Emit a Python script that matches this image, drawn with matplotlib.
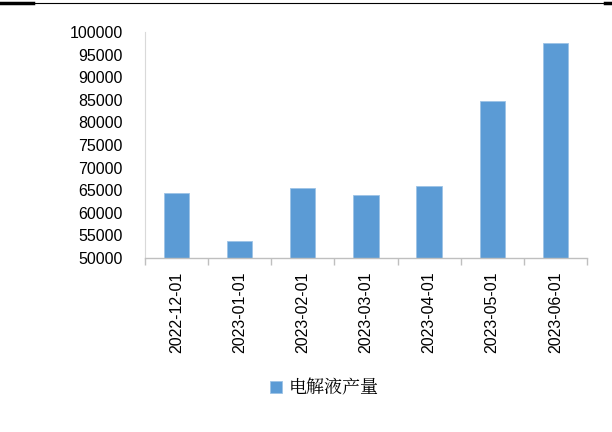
import matplotlib.pyplot as plt
from matplotlib.lines import Line2D

plt.rcParams['font.family'] = ['Liberation Sans', 'Noto Sans CJK SC', 'DejaVu Sans']

# monthly electrolyte output
months = ['2022-12-01', '2023-01-01', '2023-02-01', '2023-03-01',
          '2023-04-01', '2023-05-01', '2023-06-01']
output = [64400, 53800, 65500, 63900, 66000, 84700, 97600]
series_name = '电解液产量'

fig = plt.figure(figsize=(6.12, 4.32), dpi=100)
ax = fig.add_axes([0.237, 0.403, 0.722, 0.523])

x = list(range(len(months)))
ax.bar(x, output, width=0.4, color='#5B9BD5', edgecolor='#9DC3E6',
       linewidth=0.6, label=series_name, zorder=2)

ax.set_ylim(50000, 100000)
ax.set_yticks(range(50000, 100001, 5000))
ax.set_xlim(-0.5, len(months) - 0.5)
ax.set_xticks(x)
ax.set_xticklabels(months, rotation=90, fontsize=11.5)
ax.tick_params(axis='y', length=0, labelsize=11.5, pad=16)
ax.tick_params(axis='x', length=0, pad=10)

# category separators below the axis
ax.set_xticks([i - 0.5 for i in range(len(months) + 1)], minor=True)
ax.tick_params(axis='x', which='minor', length=5, color='#BFBFBF',
               direction='out', width=1)

for side in ['top', 'right']:
    ax.spines[side].set_visible(False)
ax.spines['left'].set_color('#D9D9D9')
ax.spines['bottom'].set_color('#BFBFBF')
ax.spines['bottom'].set_linewidth(1)

leg = fig.legend(loc='center', bbox_to_anchor=(0.53, 0.102), frameon=False,
                 handlelength=0.65, handleheight=0.65, handletextpad=0.35,
                 prop={'family': ['Noto Serif CJK SC', 'Noto Sans CJK SC'],
                       'size': 13})

# rule across the top of the page
fig.add_artist(Line2D([0, 1], [0.993, 0.993], color='black', lw=0.8,
                      transform=fig.transFigure))
fig.add_artist(Line2D([0, 0.054], [0.993, 0.993], color='black', lw=2.5,
                      transform=fig.transFigure))
fig.add_artist(Line2D([0.988, 1], [0.993, 0.993], color='black', lw=2.5,
                      transform=fig.transFigure))

fig.savefig('out.png', dpi=100)
